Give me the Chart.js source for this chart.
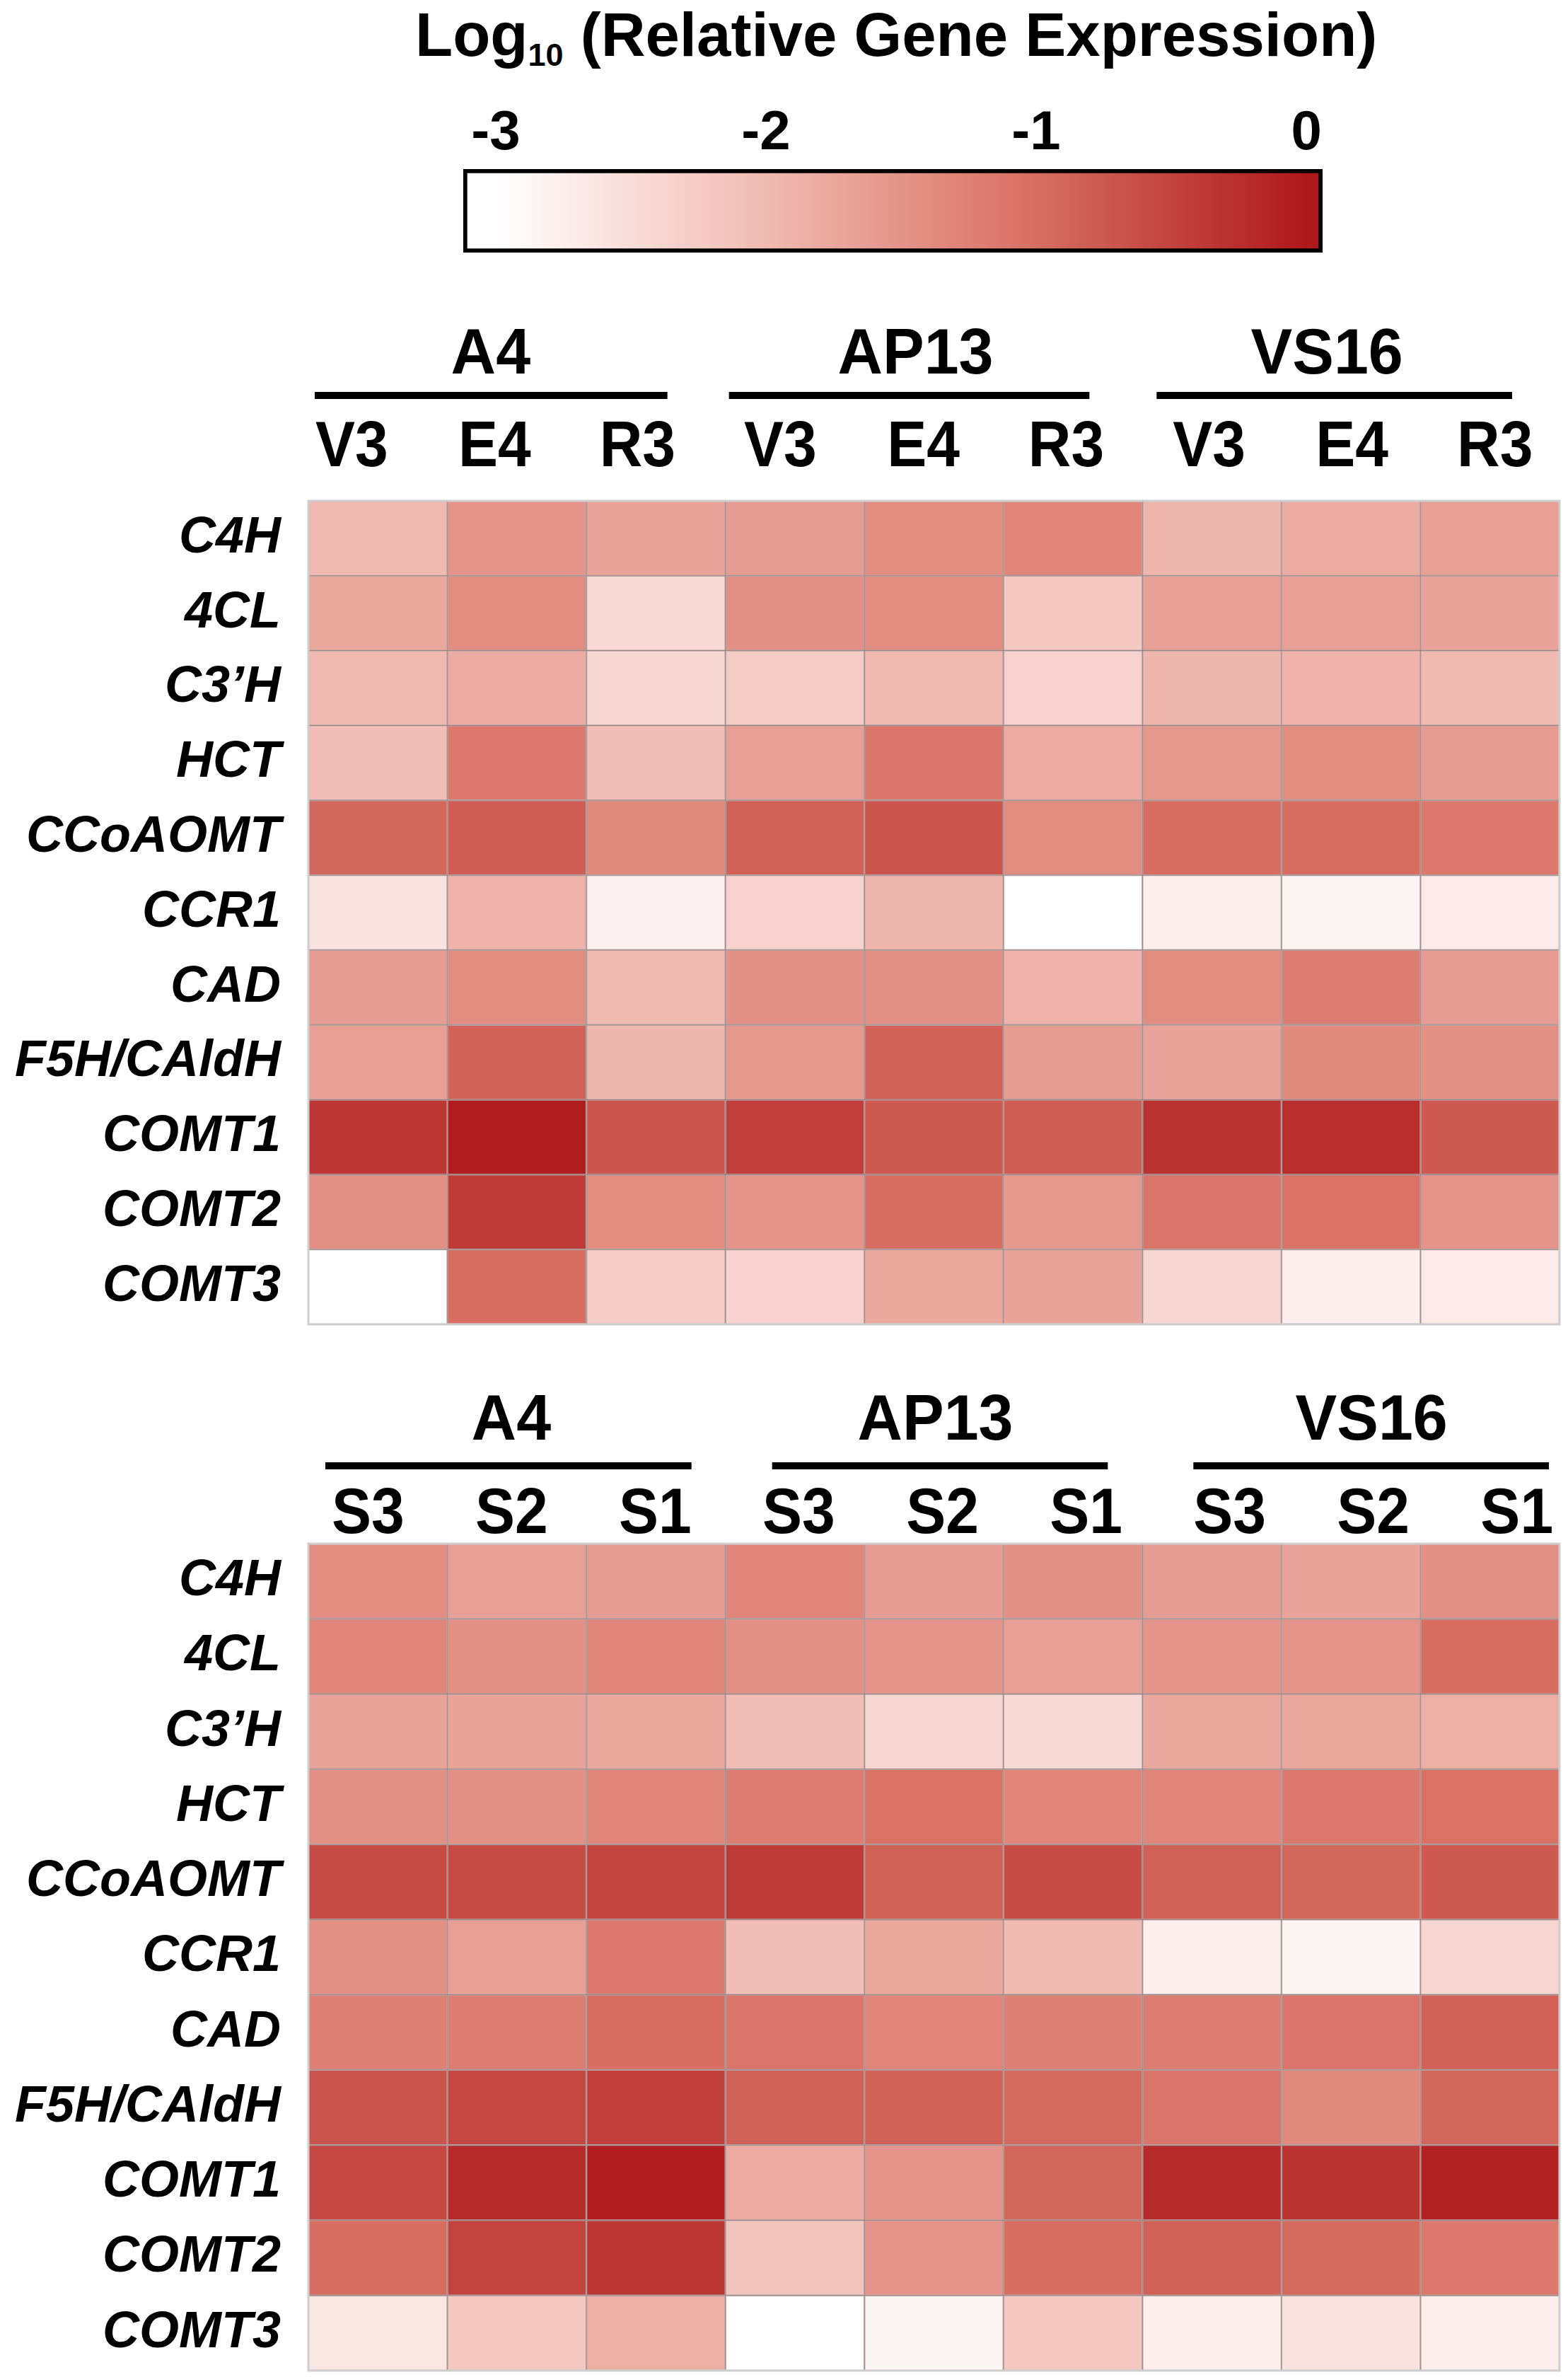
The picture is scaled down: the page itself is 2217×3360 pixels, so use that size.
<!DOCTYPE html>
<html>
<head>
<meta charset="utf-8">
<script src="https://cdn.jsdelivr.net/npm/chart.js@4.4.0/dist/chart.umd.min.js"></script>
<style>
    body { margin: 0; background: #fff; }
    #pagina { position: relative; width: 2217px; height: 3360px; background: #fff; font-family: "Liberation Sans", Arial, sans-serif; }
    .caixa { position: absolute; left: 0; width: 2217px; }
    #titulo { position: absolute; left: 587px; top: 5px; font-size: 87px; font-weight: bold; line-height: 87px; white-space: nowrap; color: #000; }
    #titulo sub { font-size: 45px; vertical-align: -14px; line-height: 0; }
</style>
</head>
<body>
<div id="pagina">
    <div id="titulo">Log<sub>10</sub> (Relative Gene Expression)</div>
    <div class="caixa" style="top:150px;height:207px"><canvas id="escala"></canvas></div>
    <div class="caixa" style="top:440px;height:1440px"><canvas id="mapaVeg"></canvas></div>
    <div class="caixa" style="top:1920px;height:1440px"><canvas id="mapaCaule"></canvas></div>
</div>

<script>
// dados (log10 da expressão relativa)
const genes = ['C4H', '4CL', 'C3’H', 'HCT', 'CCoAOMT', 'CCR1', 'CAD', 'F5H/CAldH', 'COMT1', 'COMT2', 'COMT3'];
const cultivares = ['A4', 'AP13', 'VS16'];
const estagiosVeg = ['V3', 'E4', 'R3', 'V3', 'E4', 'R3', 'V3', 'E4', 'R3'];
const estagiosCaule = ['S3', 'S2', 'S1', 'S3', 'S2', 'S1', 'S3', 'S2', 'S1'];

// linhas = genes, colunas = A4 (3), AP13 (3), VS16 (3)
const expressaoVeg = [
    [-2.0, -1.5, -1.7, -1.6, -1.4, -1.3, -1.95, -1.8, -1.65],
    [-1.75, -1.4, -2.45, -1.45, -1.4, -2.2, -1.65, -1.65, -1.7],
    [-2.0, -1.8, -2.4, -2.25, -2.0, -2.35, -1.95, -1.9, -2.0],
    [-2.05, -1.15, -2.05, -1.65, -1.1, -1.8, -1.55, -1.4, -1.6],
    [-0.9, -0.8, -1.35, -0.85, -0.7, -1.4, -1.0, -1.0, -1.15],
    [-2.6, -1.9, -2.8, -2.35, -1.95, -3.1, -2.75, -2.85, -2.7],
    [-1.6, -1.4, -2.0, -1.45, -1.45, -1.9, -1.4, -1.2, -1.6],
    [-1.65, -0.85, -1.95, -1.55, -0.85, -1.6, -1.7, -1.35, -1.45],
    [-0.35, -0.05, -0.7, -0.45, -0.75, -0.8, -0.3, -0.25, -0.75],
    [-1.45, -0.4, -1.4, -1.5, -1.0, -1.55, -1.1, -1.05, -1.5],
    [-3.0, -1.0, -2.25, -2.35, -1.75, -1.7, -2.4, -2.75, -2.7]
];

const expressaoCaule = [
    [-1.4, -1.65, -1.6, -1.3, -1.6, -1.45, -1.6, -1.7, -1.45],
    [-1.3, -1.45, -1.3, -1.45, -1.5, -1.65, -1.5, -1.5, -1.0],
    [-1.7, -1.7, -1.75, -2.05, -2.4, -2.45, -1.75, -1.75, -1.85],
    [-1.45, -1.45, -1.3, -1.2, -1.05, -1.3, -1.3, -1.15, -1.05],
    [-0.6, -0.6, -0.5, -0.4, -0.85, -0.6, -0.85, -0.9, -0.75],
    [-1.45, -1.65, -1.15, -2.05, -1.75, -2.0, -2.75, -2.85, -2.4],
    [-1.25, -1.2, -1.0, -1.1, -1.3, -1.25, -1.2, -1.1, -0.85],
    [-0.7, -0.55, -0.45, -0.85, -0.85, -0.95, -1.1, -1.35, -0.9],
    [-0.55, -0.2, -0.05, -1.8, -1.5, -0.9, -0.2, -0.3, -0.1],
    [-1.0, -0.5, -0.35, -2.15, -1.5, -1.0, -0.85, -0.95, -1.15],
    [-2.65, -2.2, -1.85, -3.1, -2.85, -2.2, -2.75, -2.6, -2.75]
];

// escala de cores (legenda)
const escalaTicks = [-3, -2, -1, 0];
const escalaMin = -3.12;
const escalaMax = 0.06;
const coresValores = [-3, -2, -1, 0];
const coresRGB = [[255, 255, 255], [240, 186, 178], [215, 110, 97], [175, 25, 28]];

const FONTE = '"Liberation Sans", Arial, sans-serif';

// converte o valor em cor interpolando entre as paradas
function corDoValor(v) {
    if (v <= coresValores[0]) return `rgb(${coresRGB[0].join(',')})`;
    for (let i = 1; i < coresValores.length; i++) {
        if (v <= coresValores[i]) {
            const t = (v - coresValores[i - 1]) / (coresValores[i] - coresValores[i - 1]);
            const a = coresRGB[i - 1], b = coresRGB[i];
            const c = a.map((x, k) => Math.round(x + (b[k] - x) * t));
            return `rgb(${c.join(',')})`;
        }
    }
    return `rgb(${coresRGB[coresRGB.length - 1].join(',')})`;
}

// CONFIGURAÇÃO DA LEGENDA DE CORES
function gradienteEscala(context) {
    const chart = context.chart;
    const sx = chart.scales.x;
    if (!chart.chartArea || !sx) return corDoValor(-1.5);
    const x0 = sx.getPixelForValue(escalaMin);
    const x1 = sx.getPixelForValue(escalaMax);
    const grad = chart.ctx.createLinearGradient(x0, 0, x1, 0);
    grad.addColorStop(0, corDoValor(escalaMin));
    coresValores.forEach(v => {
        grad.addColorStop((v - escalaMin) / (escalaMax - escalaMin), corDoValor(v));
    });
    grad.addColorStop(1, corDoValor(escalaMax));
    return grad;
}

new Chart(document.getElementById('escala'), {
    type: 'bar',
    data: {
        labels: [''],
        datasets: [{
            data: [[escalaMin, escalaMax]],
            backgroundColor: gradienteEscala,
            borderColor: '#000',
            borderWidth: 6,
            borderSkipped: false,
            barPercentage: 1,
            categoryPercentage: 1
        }]
    },
    options: {
        indexAxis: 'y',
        responsive: true,
        maintainAspectRatio: false,
        animation: false,
        layout: { padding: { left: 655, right: 347, top: 0, bottom: 0 } },
        plugins: { legend: { display: false }, tooltip: { enabled: false } },
        scales: {
            x: {
                type: 'linear',
                position: 'top',
                min: escalaMin,
                max: escalaMax,
                grid: { display: false },
                border: { display: false },
                afterBuildTicks: (s) => { s.ticks = escalaTicks.map(v => ({ value: v })); },
                afterFit: (s) => { s.height = 89; s.paddingLeft = 0; s.paddingRight = 0; },
                ticks: {
                    color: '#000',
                    padding: 3,
                    maxRotation: 0,
                    autoSkip: false,
                    font: { size: 78, weight: 'bold', family: FONTE, lineHeight: 1 }
                }
            },
            y: { display: false }
        }
    }
});

// CONFIGURAÇÃO DOS MAPAS DE CALOR
// posições do cabeçalho em coordenadas do canvas
const cabecalhos = {
    mapaVeg: { yGrupo: 88, yLinha: 119, yEstagio: 219, dxGrupo: [-37, -26, -34], linha: [[9, 82], [5, 75], [20, 67]], dx0: -37, dxPasso: 5.5 },
    mapaCaule: { yGrupo: 115, yLinha: 152, yEstagio: 247, dxGrupo: [-8, 2, 29], linha: [[24, 48], [66, 49], [72, 15]], dx0: -14, dxPasso: 6.5 }
};

// texto um pouco esticado na vertical, como na figura original
function textoEsticado(ctx, txt, x, yBase, sy) {
    ctx.save();
    ctx.translate(x, yBase);
    ctx.scale(1, sy);
    ctx.fillText(txt, 0, 0);
    ctx.restore();
}

const pluginCabecalho = {
    id: 'cabecalho',
    afterDraw(chart) {
        const cab = cabecalhos[chart.canvas.id];
        const ctx = chart.ctx;
        const sx = chart.scales.x;
        const area = chart.chartArea;
        const w = sx.getPixelForValue(1) - sx.getPixelForValue(0);
        ctx.save();
        ctx.fillStyle = '#000';
        ctx.textAlign = 'center';
        ctx.textBaseline = 'alphabetic';
        ctx.font = `bold 88px ${FONTE}`;
        cultivares.forEach((c, g) => {
            const esq = sx.getPixelForValue(g * 3) - w / 2;
            const dir = sx.getPixelForValue(g * 3 + 2) + w / 2;
            textoEsticado(ctx, c, (esq + dir) / 2 + cab.dxGrupo[g], cab.yGrupo, 1.04);
            const l0 = esq + cab.linha[g][0];
            const l1 = dir - cab.linha[g][1];
            ctx.fillRect(l0, cab.yLinha - 5, l1 - l0, 10);
        });
        ctx.font = `bold 84px ${FONTE}`;
        chart.data.labels.forEach((e, i) => {
            textoEsticado(ctx, e, sx.getPixelForValue(i) + cab.dx0 + i * cab.dxPasso, cab.yEstagio, 1.08);
        });
        // moldura clara em volta do mapa
        ctx.strokeStyle = '#cfcfcf';
        ctx.lineWidth = 3;
        ctx.strokeRect(area.left, area.top, area.right - area.left, area.bottom - area.top);
        ctx.restore();
    }
};

function criarMapa(idCanvas, estagios, valores, padTopo, padBase) {
    const datasets = genes.map((gene, r) => ({
        label: gene,
        data: estagios.map(() => 1),
        backgroundColor: valores[r].map(corDoValor),
        borderColor: 'rgba(90,50,50,0.45)',
        borderWidth: 1.5,
        borderSkipped: false,
        barPercentage: 1,
        categoryPercentage: 1
    }));

    return new Chart(document.getElementById(idCanvas), {
        type: 'bar',
        data: { labels: estagios, datasets: datasets },
        options: {
            responsive: true,
            maintainAspectRatio: false,
            animation: false,
            layout: { padding: { left: 0, right: 12, top: padTopo, bottom: padBase } },
            plugins: { legend: { display: false }, tooltip: { enabled: false } },
            scales: {
                x: { type: 'category', stacked: true, display: false },
                y: {
                    type: 'linear',
                    stacked: true,
                    reverse: true,
                    min: 0,
                    max: genes.length,
                    grid: { display: false },
                    border: { display: false },
                    afterBuildTicks: (s) => { s.ticks = genes.map((g, i) => ({ value: i + 0.5 })); },
                    afterFit: (s) => { s.width = 436; s.paddingTop = 0; s.paddingBottom = 0; },
                    ticks: {
                        color: '#000',
                        padding: 31,
                        autoSkip: false,
                        font: { size: 72, weight: 'bold', style: 'italic', family: FONTE },
                        callback: (v, i) => genes[i]
                    }
                }
            }
        },
        plugins: [pluginCabecalho]
    });
}

criarMapa('mapaVeg', estagiosVeg, expressaoVeg, 268, 8);
criarMapa('mapaCaule', estagiosCaule, expressaoCaule, 262, 9);
</script>
</body>
</html>
